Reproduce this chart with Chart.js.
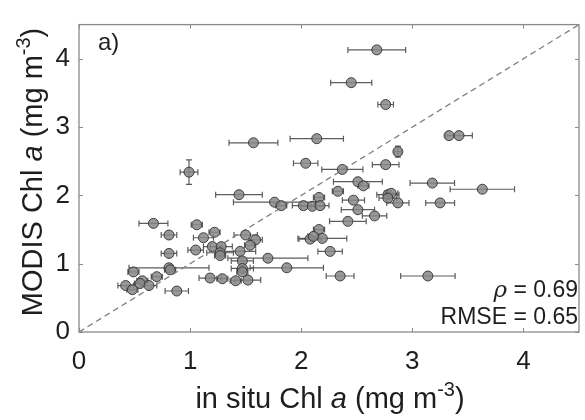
<!DOCTYPE html>
<html>
<head>
<meta charset="utf-8">
<script src="https://cdn.jsdelivr.net/npm/chart.js@4.4.1/dist/chart.umd.min.js"></script>
<style>
  html, body { margin: 0; padding: 0; background: #fff; }
  #wrap { position: relative; width: 585px; height: 420px; }
</style>
</head>
<body>
<div id="wrap"><canvas id="scatter-chart" width="585" height="420"></canvas></div>
<script>
"use strict"

// in situ Chl a (x), MODIS Chl a (y), and their error half-widths
const insituChl = [
    2.68, 2.45, 2.76, 3.33, 3.42, 1.57, 2.14, 2.87, 2.04, 2.76,
    2.37, 0.99, 2.51, 2.56, 3.18, 3.63, 2.33, 1.44, 2.78, 2.81,
    2.78, 2.16, 1.76, 1.82, 2.02, 2.10, 2.17, 2.47, 2.87, 3.25,
    2.51, 2.66, 2.42, 0.67, 1.06, 2.16, 1.22, 0.81, 1.50, 1.12,
    1.59, 2.19, 2.08, 2.11, 1.54, 1.20, 1.28, 1.05, 1.27, 1.27,
    1.45, 0.81, 2.26, 1.70, 1.47, 1.47, 1.47, 0.81, 0.82, 1.87,
    0.49, 0.70, 0.57, 0.55, 0.63, 0.42, 0.48, 0.88, 1.18, 1.29,
    1.41, 1.52, 2.35, 3.14
];
const modisChl = [
    4.13, 3.65, 3.33, 2.875, 2.875, 2.77, 2.83, 2.64, 2.47, 2.45,
    2.38, 2.34, 2.20, 2.14, 2.18, 2.09, 2.06, 2.01, 2.01, 2.03,
    1.96, 1.97, 1.90, 1.85, 1.85, 1.84, 1.85, 1.93, 1.89, 1.89,
    1.79, 1.70, 1.62, 1.59, 1.57, 1.50, 1.46, 1.42, 1.42, 1.38,
    1.35, 1.37, 1.36, 1.40, 1.27, 1.25, 1.25, 1.20, 1.16, 1.12,
    1.18, 1.15, 1.18, 1.08, 1.04, 0.93, 0.88, 0.94, 0.91, 0.94,
    0.88, 0.81, 0.75, 0.71, 0.68, 0.68, 0.62, 0.60, 0.79, 0.78,
    0.75, 0.76, 0.82, 0.82
];
const insituErr = [
    0.26, 0.185, 0.07, 0, 0.12, 0.22, 0.24, 0.03, 0.11, 0.12,
    0.185, 0.08, 0.22, 0.05, 0.2, 0.29, 0.05, 0.21, 0.1, 0.06,
    0.08, 0.05, 0.37, 0.05, 0.1, 0.1, 0.08, 0.1, 0.1, 0.13,
    0.15, 0.11, 0.165, 0.13, 0.05, 0.05, 0.05, 0.07, 0.105, 0.09,
    0.06, 0.22, 0.1, 0.05, 0.05, 0.08, 0.1, 0.07, 0.12, 0.05,
    0.14, 0.07, 0.11, 0.36, 0.1, 0.1, 0.05, 0.36, 0.05, 0.33,
    0.05, 0.05, 0.05, 0.05, 0.07, 0.07, 0.05, 0.105, 0.1, 0.05,
    0.05, 0.115, 0.125, 0.245
];
const modisErr = insituChl.map(() => 0);
modisErr[7] = 0.08;
modisErr[11] = 0.18;

const tickValues = [0, 1, 2, 3, 4];
const axisMin = 0;
const axisMax = 4.5;

const panelLabel = 'a)';
const rhoValue = '0.69';
const rmseValue = '0.65';

const xTitleParts = [['in situ Chl ', 'n'], ['a', 'i'], [' (mg m', 'n'], ['-3', 's'], [')', 'n']];
const yTitleParts = [['MODIS Chl ', 'n'], ['a', 'i'], [' (mg m', 'n'], ['-3', 's'], [')', 'n']];

const FONT = '"Liberation Sans", Arial, Helvetica, sans-serif';
const TEXT_COLOR = '#1e1e1e';
const AXIS_COLOR = '#8a8a8a';

const byId = id => document.getElementById(id);

/**
 * Sets the font for one part of a rich text line
 */
function setPartFont(ctx, style, size) {
    if (style === 'i') ctx.font = `italic ${size}px ${FONT}`;
    else if (style === 's') ctx.font = `${Math.round(size * 0.68)}px ${FONT}`;
    else ctx.font = `${size}px ${FONT}`;
}

/**
 * Draws text made of normal, italic and superscript parts, centered on x
 */
function drawRichText(ctx, parts, x, y, size) {
    let total = 0;
    parts.forEach(([txt, style]) => {
        setPartFont(ctx, style, size);
        total += ctx.measureText(txt).width;
    });
    let cx = x - total / 2;
    ctx.textAlign = 'left';
    ctx.textBaseline = 'alphabetic';
    parts.forEach(([txt, style]) => {
        setPartFont(ctx, style, size);
        const dy = style === 's' ? -size * 0.42 : 0;
        ctx.fillText(txt, cx, y + dy);
        cx += ctx.measureText(txt).width;
    });
}

// error bars, box, inward ticks and annotations
const decorPlugin = {
    id: 'decor',
    beforeDatasetsDraw(chart) {
        const ctx = chart.ctx;
        const xs = chart.scales.x;
        const ys = chart.scales.y;
        const cap = 3;
        ctx.save();
        ctx.strokeStyle = '#5c5c5c';
        ctx.lineWidth = 1.2;
        insituChl.forEach((xv, i) => {
            const px = xs.getPixelForValue(xv);
            const py = ys.getPixelForValue(modisChl[i]);
            const ex = insituErr[i];
            if (ex > 0) {
                const x1 = xs.getPixelForValue(xv - ex);
                const x2 = xs.getPixelForValue(xv + ex);
                ctx.beginPath();
                ctx.moveTo(x1, py); ctx.lineTo(x2, py);
                ctx.moveTo(x1, py - cap); ctx.lineTo(x1, py + cap);
                ctx.moveTo(x2, py - cap); ctx.lineTo(x2, py + cap);
                ctx.stroke();
            }
            const ey = modisErr[i];
            if (ey > 0) {
                const y1 = ys.getPixelForValue(modisChl[i] - ey);
                const y2 = ys.getPixelForValue(modisChl[i] + ey);
                ctx.beginPath();
                ctx.moveTo(px, y1); ctx.lineTo(px, y2);
                ctx.moveTo(px - cap, y1); ctx.lineTo(px + cap, y1);
                ctx.moveTo(px - cap, y2); ctx.lineTo(px + cap, y2);
                ctx.stroke();
            }
        });
        ctx.restore();
    },
    afterDraw(chart) {
        const ctx = chart.ctx;
        const a = chart.chartArea;
        const xs = chart.scales.x;
        const ys = chart.scales.y;
        const tl = 4;

        ctx.save();
        ctx.strokeStyle = AXIS_COLOR;
        ctx.lineWidth = 1.3;
        ctx.strokeRect(a.left, a.top, a.right - a.left, a.bottom - a.top);

        ctx.lineWidth = 1;
        ctx.beginPath();
        tickValues.forEach(v => {
            const px = Math.round(xs.getPixelForValue(v)) + 0.5;
            ctx.moveTo(px, a.bottom); ctx.lineTo(px, a.bottom - tl);
            ctx.moveTo(px, a.top); ctx.lineTo(px, a.top + tl);
            const py = Math.round(ys.getPixelForValue(v)) + 0.5;
            ctx.moveTo(a.left, py); ctx.lineTo(a.left + tl, py);
            ctx.moveTo(a.right, py); ctx.lineTo(a.right - tl, py);
        });
        ctx.stroke();

        ctx.fillStyle = TEXT_COLOR;

        // panel label
        ctx.font = `24px ${FONT}`;
        ctx.textAlign = 'left';
        ctx.textBaseline = 'alphabetic';
        ctx.fillText(panelLabel, 98, 50);

        // statistics, right aligned
        const right = 578;
        ctx.font = `23px ${FONT}`;
        ctx.textAlign = 'right';
        const rest = ' = ' + rhoValue;
        ctx.fillText(rest, right, 297);
        const restW = ctx.measureText(rest).width;
        ctx.font = `italic 23px "DejaVu Serif", serif`;
        ctx.fillText('\u03C1', right - restW, 297);
        ctx.font = `23px ${FONT}`;
        ctx.fillText('RMSE = ' + rmseValue, right, 324);

        // axis titles
        drawRichText(ctx, xTitleParts, 330, 408, 29);
        ctx.save();
        ctx.translate(42, 172);
        ctx.rotate(-Math.PI / 2);
        drawRichText(ctx, yTitleParts, 0, 0, 29);
        ctx.restore();

        ctx.restore();
    }
};

const pointData = insituChl.map((x, i) => ({ x: x, y: modisChl[i] }));

new Chart(byId('scatter-chart'), {
    type: 'scatter',
    data: {
        datasets: [
            {
                label: 'matchups',
                data: pointData,
                backgroundColor: 'rgba(135,135,135,0.85)',
                borderColor: 'rgba(50,50,50,0.9)',
                borderWidth: 1,
                pointRadius: 5,
                order: 1
            },
            {
                label: '1:1',
                type: 'line',
                data: [{ x: axisMin, y: axisMin }, { x: axisMax, y: axisMax }],
                borderColor: '#808080',
                borderWidth: 1.3,
                borderDash: [6, 4],
                pointRadius: 0,
                fill: false,
                order: 2
            }
        ]
    },
    options: {
        responsive: false,
        animation: false,
        layout: { padding: { left: 0, right: 2, top: 9, bottom: 0 } },
        plugins: {
            legend: { display: false },
            tooltip: { enabled: false }
        },
        scales: {
            x: {
                type: 'linear',
                min: axisMin,
                max: axisMax,
                grid: { display: false, drawTicks: false },
                border: { display: false },
                afterBuildTicks: s => { s.ticks = tickValues.map(v => ({ value: v })); },
                afterFit: s => { s.height = 88; },
                ticks: {
                    padding: 14,
                    color: TEXT_COLOR,
                    font: { family: FONT, size: 26 }
                }
            },
            y: {
                type: 'linear',
                min: axisMin,
                max: axisMax,
                grid: { display: false, drawTicks: false },
                border: { display: false },
                afterBuildTicks: s => { s.ticks = tickValues.map(v => ({ value: v })); },
                afterFit: s => { s.width = 79; },
                ticks: {
                    padding: 9,
                    color: TEXT_COLOR,
                    font: { family: FONT, size: 26 }
                }
            }
        }
    },
    plugins: [decorPlugin]
});
</script>
</body>
</html>
